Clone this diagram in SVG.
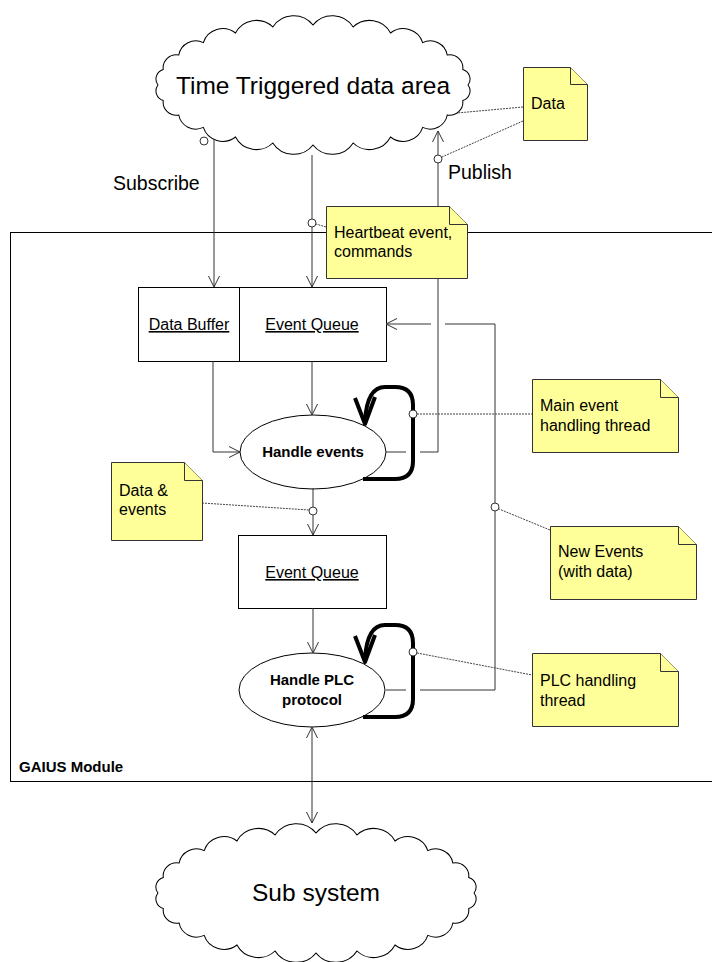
<svg xmlns="http://www.w3.org/2000/svg" width="712" height="962" viewBox="0 0 712 962">
<style>
text{font-family:"Liberation Sans",Arial,sans-serif;fill:#000}
.big{font-size:24.5px}
.lbl{font-size:19.5px}
.nt{font-size:16px}
.box{fill:#fff;stroke:#000;stroke-width:1}
.u{font-size:16px;text-decoration:underline}
.b{font-size:15px;font-weight:bold}
.note{fill:#ffff99;stroke:#333;stroke-width:1}
.fold{fill:#ffff99;stroke:#333;stroke-width:1}
.ln{fill:none;stroke:#333;stroke-width:1}
.dot{fill:none;stroke:#444;stroke-width:1;stroke-dasharray:2,1}
.thick{fill:none;stroke:#000;stroke-width:4;stroke-linejoin:round}
.circ{fill:#fff;stroke:#333;stroke-width:1}
.cloud{fill:#fff;stroke:#000;stroke-width:1}
</style>
<defs>
<marker id="arr" markerWidth="12" markerHeight="12" refX="11" refY="6" orient="auto-start-reverse" markerUnits="userSpaceOnUse">
<path d="M0,0.5 L11,6 L0,11.5" fill="none" stroke="#333" stroke-width="1"/>
</marker>
<path id="cloudShape" d="M152,0 A10,10 0 0 1 146.8,15.5 A13,13 0 0 1 131.6,30 A17,17 0 0 1 107.5,42.4 A20,20 0 0 1 76,52 A23,23 0 0 1 39.4,58 A24,24 0 0 1 0,60 A24,24 0 0 1 -39.4,58 A23,23 0 0 1 -76,52 A20,20 0 0 1 -107.5,42.4 A17,17 0 0 1 -131.6,30 A13,13 0 0 1 -146.8,15.5 A10,10 0 0 1 -152,0 A10,10 0 0 1 -146.8,-15.5 A13,13 0 0 1 -131.6,-30 A17,17 0 0 1 -107.5,-42.4 A20,20 0 0 1 -76,-52 A23,23 0 0 1 -39.4,-58 A24,24 0 0 1 0,-60 A24,24 0 0 1 39.4,-58 A23,23 0 0 1 76,-52 A20,20 0 0 1 107.5,-42.4 A17,17 0 0 1 131.6,-30 A13,13 0 0 1 146.8,-15.5 A10,10 0 0 1 152,0 Z"/>
</defs>
<rect width="712" height="962" fill="#fff"/>

<g id="gaius-module">
<rect x="10.5" y="232.5" width="710" height="549" fill="none" stroke="#000" stroke-width="1"/>
<text x="19" y="772" class="b">GAIUS Module</text>
</g>

<g id="time-triggered-area">
<use href="#cloudShape" transform="translate(313,85) scale(1.02,1)" class="cloud"/>
<text x="313" y="94" class="big" text-anchor="middle">Time Triggered data area</text>
</g>

<g id="sub-system">
<use href="#cloudShape" transform="translate(316,893) scale(1.04,1)" class="cloud"/>
<text x="316" y="901" class="big" text-anchor="middle">Sub system</text>
</g>

<g id="data-buffer">
<rect class="box" x="138.5" y="287.5" width="101" height="74"/>
<text x="189" y="330" class="u" text-anchor="middle">Data Buffer</text>
</g>
<g id="event-queue-1">
<rect class="box" x="239.5" y="287.5" width="147" height="74"/>
<text x="312" y="330" class="u" text-anchor="middle">Event Queue</text>
</g>
<g id="handle-events">
<ellipse cx="313" cy="452" rx="73" ry="37" fill="#fff" stroke="#000" stroke-width="1"/>
<text x="313" y="457" class="b" text-anchor="middle">Handle events</text>
</g>
<g id="event-queue-2">
<rect class="box" x="238.5" y="535.5" width="148" height="73"/>
<text x="312" y="578" class="u" text-anchor="middle">Event Queue</text>
</g>
<g id="handle-plc">
<ellipse cx="312" cy="690" rx="73" ry="37" fill="#fff" stroke="#000" stroke-width="1"/>
<text x="312" y="685" class="b" text-anchor="middle">Handle PLC</text>
<text x="312" y="705" class="b" text-anchor="middle">protocol</text>
</g>

<g id="connectors">
<path class="ln" d="M214,139 L214,287" marker-end="url(#arr)"/>
<path class="ln" d="M312,155 L312,287" marker-end="url(#arr)"/>
<path class="ln" d="M438,452 L438,131" marker-end="url(#arr)"/>
<path class="ln" d="M495,690 L495,324 L445,324"/>
<path class="ln" d="M431,324 L386,324" marker-end="url(#arr)"/>
<path class="ln" d="M312,361 L312,415" marker-end="url(#arr)"/>
<path class="ln" d="M213,361 L213,452 L240,452" marker-end="url(#arr)"/>
<path class="ln" d="M313,488 L313,535" marker-end="url(#arr)"/>
<path class="ln" d="M313,608 L313,653" marker-end="url(#arr)"/>
<path class="ln" d="M312,727 L312,823" marker-start="url(#arr)" marker-end="url(#arr)"/>
<path class="ln" d="M386,452 L406,452 M420,452 L438,452"/>
<path class="ln" d="M386,690 L406,690 M420,690 L495,690"/>
<path class="thick" d="M363,479 L395,479 Q413,479 413,461 L413,405 Q413,387 395,387 L385,387 Q367,387 365,421"/>
<polyline class="thick" points="355,398 365,424 375,397"/>
<path class="thick" d="M363,717 L395,717 Q413,717 413,699 L413,643 Q413,625 395,625 L385,625 Q367,625 365,659"/>
<polyline class="thick" points="355,636 365,662 375,635"/>
<path class="dot" d="M523,107 L457,113"/>
<path class="dot" d="M523,121 L442,157"/>
<path class="dot" d="M326,227 L316,224"/>
<path class="dot" d="M417,414 L532,414"/>
<path class="dot" d="M550,530 L499,509"/>
<path class="dot" d="M202,503 L309,510"/>
<path class="dot" d="M417,653 L532,675"/>
<circle class="circ" cx="204" cy="141" r="4"/>
<circle class="circ" cx="312" cy="223" r="4"/>
<circle class="circ" cx="438" cy="159" r="4"/>
<circle class="circ" cx="495" cy="507" r="4"/>
<circle class="circ" cx="313" cy="511" r="4"/>
<circle class="circ" cx="413" cy="414" r="4"/>
<circle class="circ" cx="413" cy="652" r="4"/>
</g>

<g id="labels">
<text x="113" y="190" class="lbl">Subscribe</text>
<text x="448" y="179" class="lbl">Publish</text>
</g>

<g id="note-data">
<path class="note" d="M523.5,67.5 L570.5,67.5 L587.5,84.5 L587.5,140.5 L523.5,140.5 Z"/>
<path class="fold" d="M570.5,67.5 L570.5,84.5 L587.5,84.5"/>
<text x="531" y="109" class="nt">Data</text>
</g>
<g id="note-heartbeat">
<path class="note" d="M326.5,206.5 L449.5,206.5 L467.5,224.5 L467.5,278.5 L326.5,278.5 Z"/>
<path class="fold" d="M449.5,206.5 L449.5,224.5 L467.5,224.5"/>
<text x="334" y="238" class="nt">Heartbeat event,</text>
<text x="334" y="257" class="nt">commands</text>
</g>
<g id="note-main-thread">
<path class="note" d="M532.5,379.5 L660.5,379.5 L678.5,397.5 L678.5,452.5 L532.5,452.5 Z"/>
<path class="fold" d="M660.5,379.5 L660.5,397.5 L678.5,397.5"/>
<text x="540" y="411" class="nt">Main event</text>
<text x="540" y="431" class="nt">handling thread</text>
</g>
<g id="note-new-events">
<path class="note" d="M550.5,526.5 L678.5,526.5 L696.5,544.5 L696.5,599.5 L550.5,599.5 Z"/>
<path class="fold" d="M678.5,526.5 L678.5,544.5 L696.5,544.5"/>
<text x="558" y="557" class="nt">New Events</text>
<text x="558" y="577" class="nt">(with data)</text>
</g>
<g id="note-data-events">
<path class="note" d="M111.5,462.5 L184.5,462.5 L202.5,480.5 L202.5,540.5 L111.5,540.5 Z"/>
<path class="fold" d="M184.5,462.5 L184.5,480.5 L202.5,480.5"/>
<text x="119" y="496" class="nt">Data &amp;</text>
<text x="119" y="515" class="nt">events</text>
</g>
<g id="note-plc-thread">
<path class="note" d="M532.5,653.5 L660.5,653.5 L678.5,671.5 L678.5,726.5 L532.5,726.5 Z"/>
<path class="fold" d="M660.5,653.5 L660.5,671.5 L678.5,671.5"/>
<text x="540" y="686" class="nt">PLC handling</text>
<text x="540" y="706" class="nt">thread</text>
</g>
</svg>
